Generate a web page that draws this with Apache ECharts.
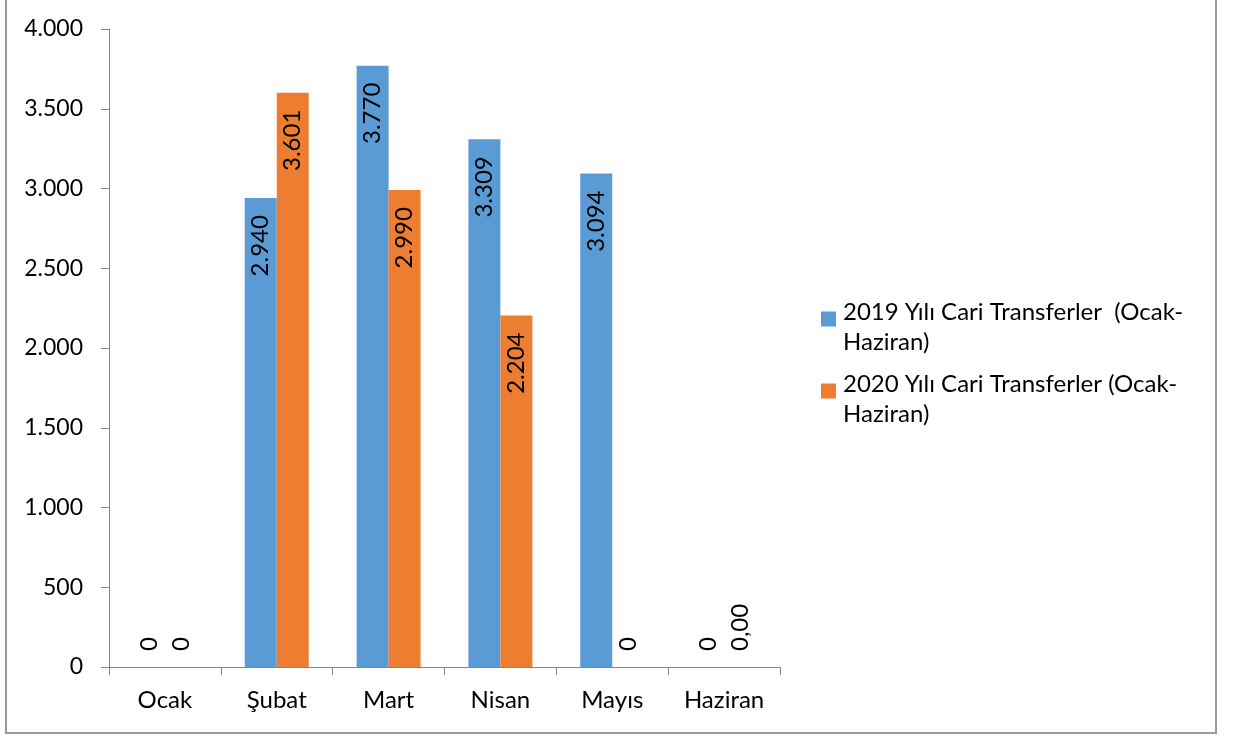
<!DOCTYPE html>
<html>
<head>
<meta charset="utf-8">
<script src="https://cdn.jsdelivr.net/npm/echarts@6/dist/echarts.min.js"></script>
<style>
html,body{margin:0;padding:0;background:#fff;}
#chart{width:1241px;height:738px;}
</style>
</head>
<body>
<div id="chart"></div>
<script>
const categories = ['Ocak', 'Şubat', 'Mart', 'Nisan', 'Mayıs', 'Haziran'];
const seriesNames = ['2019 Yılı Cari Transferler  (Ocak-Haziran)', '2020 Yılı Cari Transferler (Ocak-Haziran)'];
const legendLines = [['2019 Yılı Cari Transferler  (Ocak-', 'Haziran)'], ['2020 Yılı Cari Transferler (Ocak-', 'Haziran)']];
const values2019 = [0, 2940, 3770, 3309, 3094, 0];
const values2020 = [0, 3601, 2990, 2204, 0, 0];
const labels2019 = ['0', '2.940', '3.770', '3.309', '3.094', '0'];
const labels2020 = ['0', '3.601', '2.990', '2.204', '0', '0,00'];
const yTicks = [0, 500, 1000, 1500, 2000, 2500, 3000, 3500, 4000];

const FONT = 'Lato';
const FS = 24;

function buildData(values, labels) {
  return values.map((v, i) => {
    const base = {fontFamily: FONT, fontSize: FS, color: '#000', rotate: 90, verticalAlign: 'middle', formatter: labels[i]};
    if (v === 0) {
      return {value: v, label: Object.assign(base, {show: true, position: 'top', align: 'left', distance: 16})};
    }
    return {value: v, label: Object.assign(base, {show: true, position: 'insideTop', align: 'right', distance: 5, offset: [-12, 0]})};
  });
}

function fmtThousands(v) {
  return String(v).replace(/\B(?=(\d{3})+(?!\d))/g, '.');
}

const colors = ['#5B9BD5', '#ED7D31'];

const chart = echarts.init(document.getElementById('chart'), null, {renderer: 'canvas'});
const legendTops = [281, 353];
chart.setOption({
  animation: false,
  backgroundColor: '#fff',
  color: colors,
  grid: {left: 109, right: 461, top: 29, bottom: 71, containLabel: false},
  xAxis: {
    type: 'category',
    data: categories,
    axisLine: {show: true, lineStyle: {color: '#868686', width: 1}},
    axisTick: {show: true, length: 8, lineStyle: {color: '#868686'}},
    axisLabel: {fontFamily: FONT, fontSize: FS, color: '#000', margin: 21},
    splitLine: {show: false}
  },
  yAxis: {
    type: 'value',
    min: yTicks[0],
    max: yTicks[yTicks.length - 1],
    interval: yTicks[1] - yTicks[0],
    axisLine: {show: true, lineStyle: {color: '#868686', width: 1}},
    axisTick: {show: true, length: 8, lineStyle: {color: '#868686'}},
    axisLabel: {fontFamily: FONT, fontSize: 23, color: '#000', margin: 26, formatter: v => fmtThousands(v)},
    splitLine: {show: false}
  },
  legend: seriesNames.map((name, i) => ({
    data: [name],
    orient: 'vertical',
    left: 821,
    top: legendTops[i],
    padding: 0,
    itemWidth: 15,
    itemHeight: 15,
    itemGap: 0,
    icon: 'rect',
    selectedMode: false,
    formatter: () => '{s| }\n{t|' + legendLines[i][0] + '}\n{t|' + legendLines[i][1] + '}',
    textStyle: {
      fontFamily: FONT, fontSize: FS, color: '#000', padding: [0, 0, 0, 2],
      rich: {
        s: {fontSize: 4, lineHeight: 16, height: 16},
        t: {fontFamily: FONT, fontSize: FS, color: '#000', lineHeight: 30}
      }
    }
  })),
  series: [
    {name: seriesNames[0], type: 'bar', barWidth: 32, barGap: '0%', data: buildData(values2019, labels2019)},
    {name: seriesNames[1], type: 'bar', barWidth: 32, barGap: '0%', data: buildData(values2020, labels2020)}
  ],
  graphic: [{
    type: 'rect',
    silent: true,
    shape: {x: 6, y: -3, width: 1210, height: 736},
    style: {fill: 'none', stroke: '#9a9a9a', lineWidth: 2},
    z: -10
  }]
});
</script>
</body>
</html>
